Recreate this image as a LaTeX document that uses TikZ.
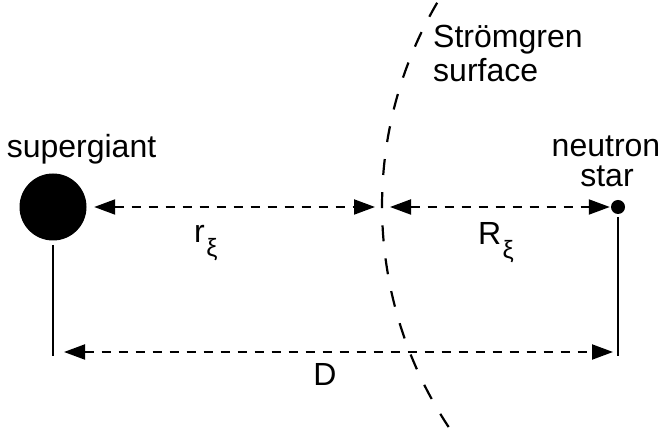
\documentclass[tikz,border=0pt]{standalone}
\usepackage{fontspec}
\setmainfont{Liberation Sans}
\usetikzlibrary{arrows.meta}
\begin{document}
\begin{tikzpicture}[x=1pt,y=1pt,
  lbl/.style={font=\fontsize{32}{38}\selectfont, inner sep=0pt},
  sub/.style={font=\fontsize{25}{28}\selectfont, inner sep=0pt},
  dimarrow/.style={line width=2pt, dash pattern=on 9pt off 8pt,
    arrows={Triangle[length=21pt,width=15pt]-Triangle[length=21pt,width=15pt]}},
  guide/.style={line width=1.2pt},
  surf/.style={line width=2.2pt, dash pattern=on 16pt off 17.2pt}]
\useasboundingbox (0,0) rectangle (660,430);
% bodies
\node[circle, fill=black, minimum size=67pt, inner sep=0pt] (sg) at (53,223) {};
\node[circle, fill=black, minimum size=14pt, inner sep=0pt] (ns) at (618,223) {};
% Stromgren surface
\draw[surf] (783,224.3) ++(149.6:401) arc[start angle=149.6, end angle=213.5, radius=401];
\coordinate (mid) at (382,223);
% labels
\node[lbl, anchor=base] (sgl) at (81.5,272) {supergiant};
\node[lbl, anchor=base] (nsl1) at (606,273) {neutron};
\node[lbl, anchor=base] (nsl2) at (607,243) {star};
\node[lbl, anchor=base west] (st1) at (433,382) {Strömgren};
\node[lbl, anchor=base west] (st2) at (433,348) {surface};
% distance arrows
\draw[dimarrow, shorten <=7.5pt, shorten >=7pt] (sg.east) -- (mid);
\draw[dimarrow, shorten <=8pt, shorten >=1pt] (mid) -- (ns.west);
\node[lbl, anchor=base west] (rl) at (194,187) {r};
\node[sub, anchor=base west] (rx) at (rl.base east) [yshift=-14pt, xshift=1pt] {ξ};
\node[lbl, anchor=base west] (Rl) at (478,185) {R};
\node[sub, anchor=base west] (Rx) at (Rl.base east) [yshift=-14pt, xshift=1pt] {ξ};
% baseline D
\coordinate (sgb) at (53,185);
\coordinate (nsb) at (618,213);
\coordinate (dl) at (53,74);
\coordinate (dr) at (618,74);
\coordinate (dla) at (53,78);
\coordinate (dra) at (618,78);
\draw[guide] (sgb) -- (dl);
\draw[guide] (nsb) -- (dr);
\draw[dimarrow, shorten <=11pt, shorten >=5pt] (dla) -- (dra);
\node[lbl, anchor=base] (Dl) at (325,44) {D};
\end{tikzpicture}
\end{document}
